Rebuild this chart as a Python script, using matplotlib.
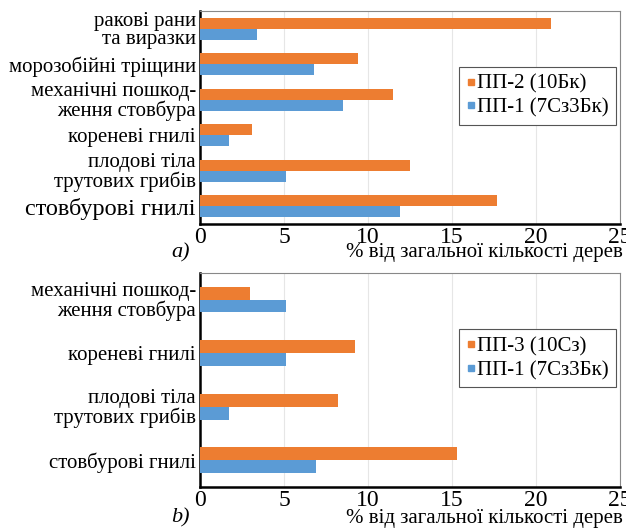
import matplotlib.pyplot as plt
import numpy as np
from matplotlib.lines import Line2D

plt.rcParams['font.family'] = ['Liberation Serif', 'DejaVu Serif']

# panel a)
cats_a = ['стовбурові гнилі', 'плодові тіла\nтрутових грибів', 'кореневі гнилі',
          'механічні пошкод-\nження стовбура', 'морозобійні тріщини', 'ракові рани\nта виразки']
pp2_a = [17.7, 12.5, 3.1, 11.5, 9.4, 20.9]
pp1_a = [11.9, 5.1, 1.7, 8.5, 6.8, 3.4]

# panel b)
cats_b = ['стовбурові гнилі', 'плодові тіла\nтрутових грибів', 'кореневі гнилі',
          'механічні пошкод-\nження стовбура']
pp3_b = [15.3, 8.2, 9.2, 3.0]
pp1_b = [6.9, 1.7, 5.1, 5.1]

orange = '#ED7D31'
blue = '#5B9BD5'

fig = plt.figure(figsize=(6.26, 5.29), dpi=100)
ax1 = fig.add_axes([0.3195, 0.5766, 0.671, 0.403])
ax2 = fig.add_axes([0.3195, 0.0794, 0.671, 0.405])


def draw(ax, cats, v_top, v_bot, lab_top, lab_bot, h):
    y = np.arange(len(cats))
    ax.barh(y + h / 2, v_top, height=h, color=orange, zorder=3)
    ax.barh(y - h / 2, v_bot, height=h, color=blue, zorder=3)
    ax.set_yticks(y)
    ax.set_yticklabels(cats, fontsize=15, linespacing=0.95)
    ax.set_ylim(-0.5, len(cats) - 0.5)
    ax.set_xlim(0, 25)
    ax.set_xticks([0, 5, 10, 15, 20, 25])
    ax.tick_params(axis='x', labelsize=17, length=0, pad=2)
    ax.tick_params(axis='y', length=0, pad=3)
    ax.grid(axis='x', color='#e6e6e6', linewidth=0.8, zorder=0)
    for s in ['top', 'right']:
        ax.spines[s].set_color('#888888')
        ax.spines[s].set_linewidth(0.8)
    for s in ['left', 'bottom']:
        ax.spines[s].set_color('black')
        ax.spines[s].set_linewidth(1.8)
    handles = [Line2D([], [], marker='s', linestyle='', color=orange, markersize=5),
               Line2D([], [], marker='s', linestyle='', color=blue, markersize=5)]
    leg = ax.legend(handles, [lab_top, lab_bot], loc='center right', fontsize=15,
                    handlelength=0.4, handletextpad=0.1, borderpad=0.35,
                    labelspacing=0.2, fancybox=False, framealpha=1,
                    bbox_to_anchor=(0.99, 0.60), borderaxespad=0)
    leg.get_frame().set_edgecolor('#555555')
    leg.get_frame().set_linewidth(0.8)


draw(ax1, cats_a, pp2_a, pp1_a, 'ПП-2 (10Бк)', 'ПП-1 (7Сз3Бк)', 0.31)
draw(ax2, cats_b, pp3_b, pp1_b, 'ПП-3 (10Сз)', 'ПП-1 (7Сз3Бк)', 0.24)
ax1.get_yticklabels()[0].set_fontsize(17.5)

fig.text(0.995, 0.514, '% від загальної кількості дерев', ha='right', va='baseline', fontsize=15)
fig.text(0.995, 0.012, '% від загальної кількості дерев', ha='right', va='baseline', fontsize=15)
fig.text(0.288, 0.514, 'a)', style='italic', fontsize=16, ha='center', va='baseline')
fig.text(0.288, 0.012, 'b)', style='italic', fontsize=16, ha='center', va='baseline')

fig.savefig('out.png', dpi=100)
